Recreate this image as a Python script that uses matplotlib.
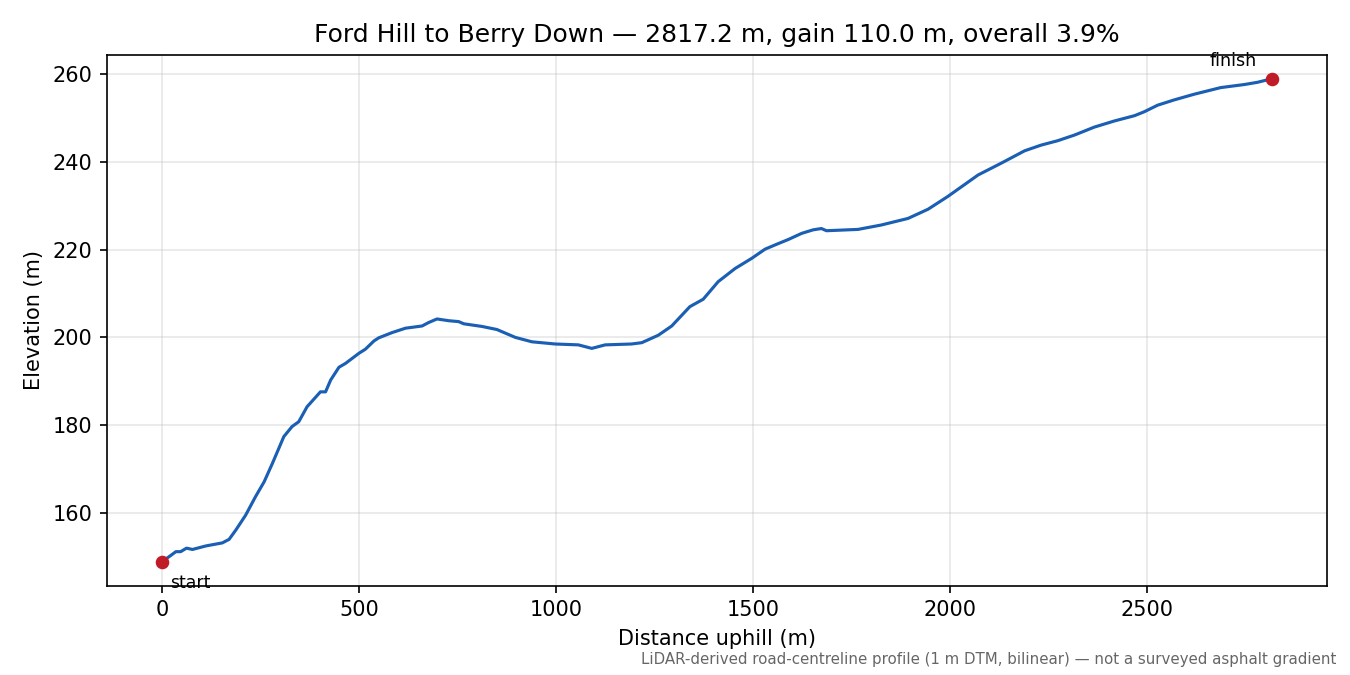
import matplotlib
matplotlib.use("Agg")
import matplotlib.pyplot as plt

# profile (distance uphill, elevation)
dist = [0, 35, 47, 62, 77, 111, 153, 170, 187, 212, 237, 259, 280, 309, 330,
        347, 368, 402, 415, 428, 449, 466, 500, 516, 538, 550, 584, 618, 660,
        677, 698, 728, 753, 766, 812, 850, 897, 939, 998, 1057, 1091, 1125,
        1192, 1218, 1260, 1294, 1340, 1374, 1412, 1455, 1497, 1531, 1560,
        1590, 1624, 1653, 1674, 1687, 1767, 1826, 1894, 1945, 1995, 2072,
        2131, 2190, 2232, 2274, 2317, 2367, 2418, 2469, 2494, 2528, 2570,
        2621, 2688, 2748, 2781, 2817.2]
elev = [148.9, 151.2, 151.2, 152.0, 151.7, 152.5, 153.2, 154.0, 156.1, 159.5,
        163.7, 167.1, 171.3, 177.4, 179.7, 180.8, 184.2, 187.6, 187.6, 190.3,
        193.2, 194.1, 196.4, 197.3, 199.2, 199.9, 201.1, 202.1, 202.6, 203.4,
        204.2, 203.8, 203.6, 203.1, 202.5, 201.8, 200.0, 199.0, 198.5, 198.3,
        197.5, 198.3, 198.5, 198.8, 200.5, 202.6, 207.0, 208.7, 212.7, 215.7,
        218.0, 220.1, 221.2, 222.3, 223.7, 224.5, 224.8, 224.3, 224.6, 225.6,
        227.1, 229.2, 232.1, 237.0, 239.7, 242.5, 243.8, 244.8, 246.1, 247.9,
        249.3, 250.5, 251.4, 252.9, 254.1, 255.4, 256.9, 257.6, 258.1, 258.9]

start_name = "Ford Hill"
end_name = "Berry Down"
note = "LiDAR-derived road-centreline profile (1 m DTM, bilinear) \u2014 not a surveyed asphalt gradient"

length = dist[-1]
gain = elev[-1] - elev[0]
overall = gain / length * 100

fig, ax = plt.subplots(figsize=(9, 4.5), dpi=150)
fig.subplots_adjust(left=0.079, right=0.983, top=0.919, bottom=0.132)

ax.plot(dist, elev, color="#1a5fb4", lw=1.5)
ax.plot([dist[0], dist[-1]], [elev[0], elev[-1]], "o", color="#c01c28",
        markersize=5.5, zorder=3)
ax.annotate("start", (dist[0], elev[0]), xytext=(4, -6),
            textcoords="offset points", ha="left", va="top", fontsize=8.3)
ax.annotate("finish", (dist[-1], elev[-1]), xytext=(-7, 4),
            textcoords="offset points", ha="right", va="bottom", fontsize=8.4)

ax.set_title(f"{start_name} to {end_name} \u2014 {length:.1f} m, gain {gain:.1f} m, overall {overall:.1f}%")
ax.set_xlabel("Distance uphill (m)")
ax.set_ylabel("Elevation (m)")
ax.grid(True, alpha=0.3)

fig.text(0.99, 0.012, note, ha="right", va="bottom", fontsize=7.2, color="#666666")

fig.savefig("out.png", dpi=150)
